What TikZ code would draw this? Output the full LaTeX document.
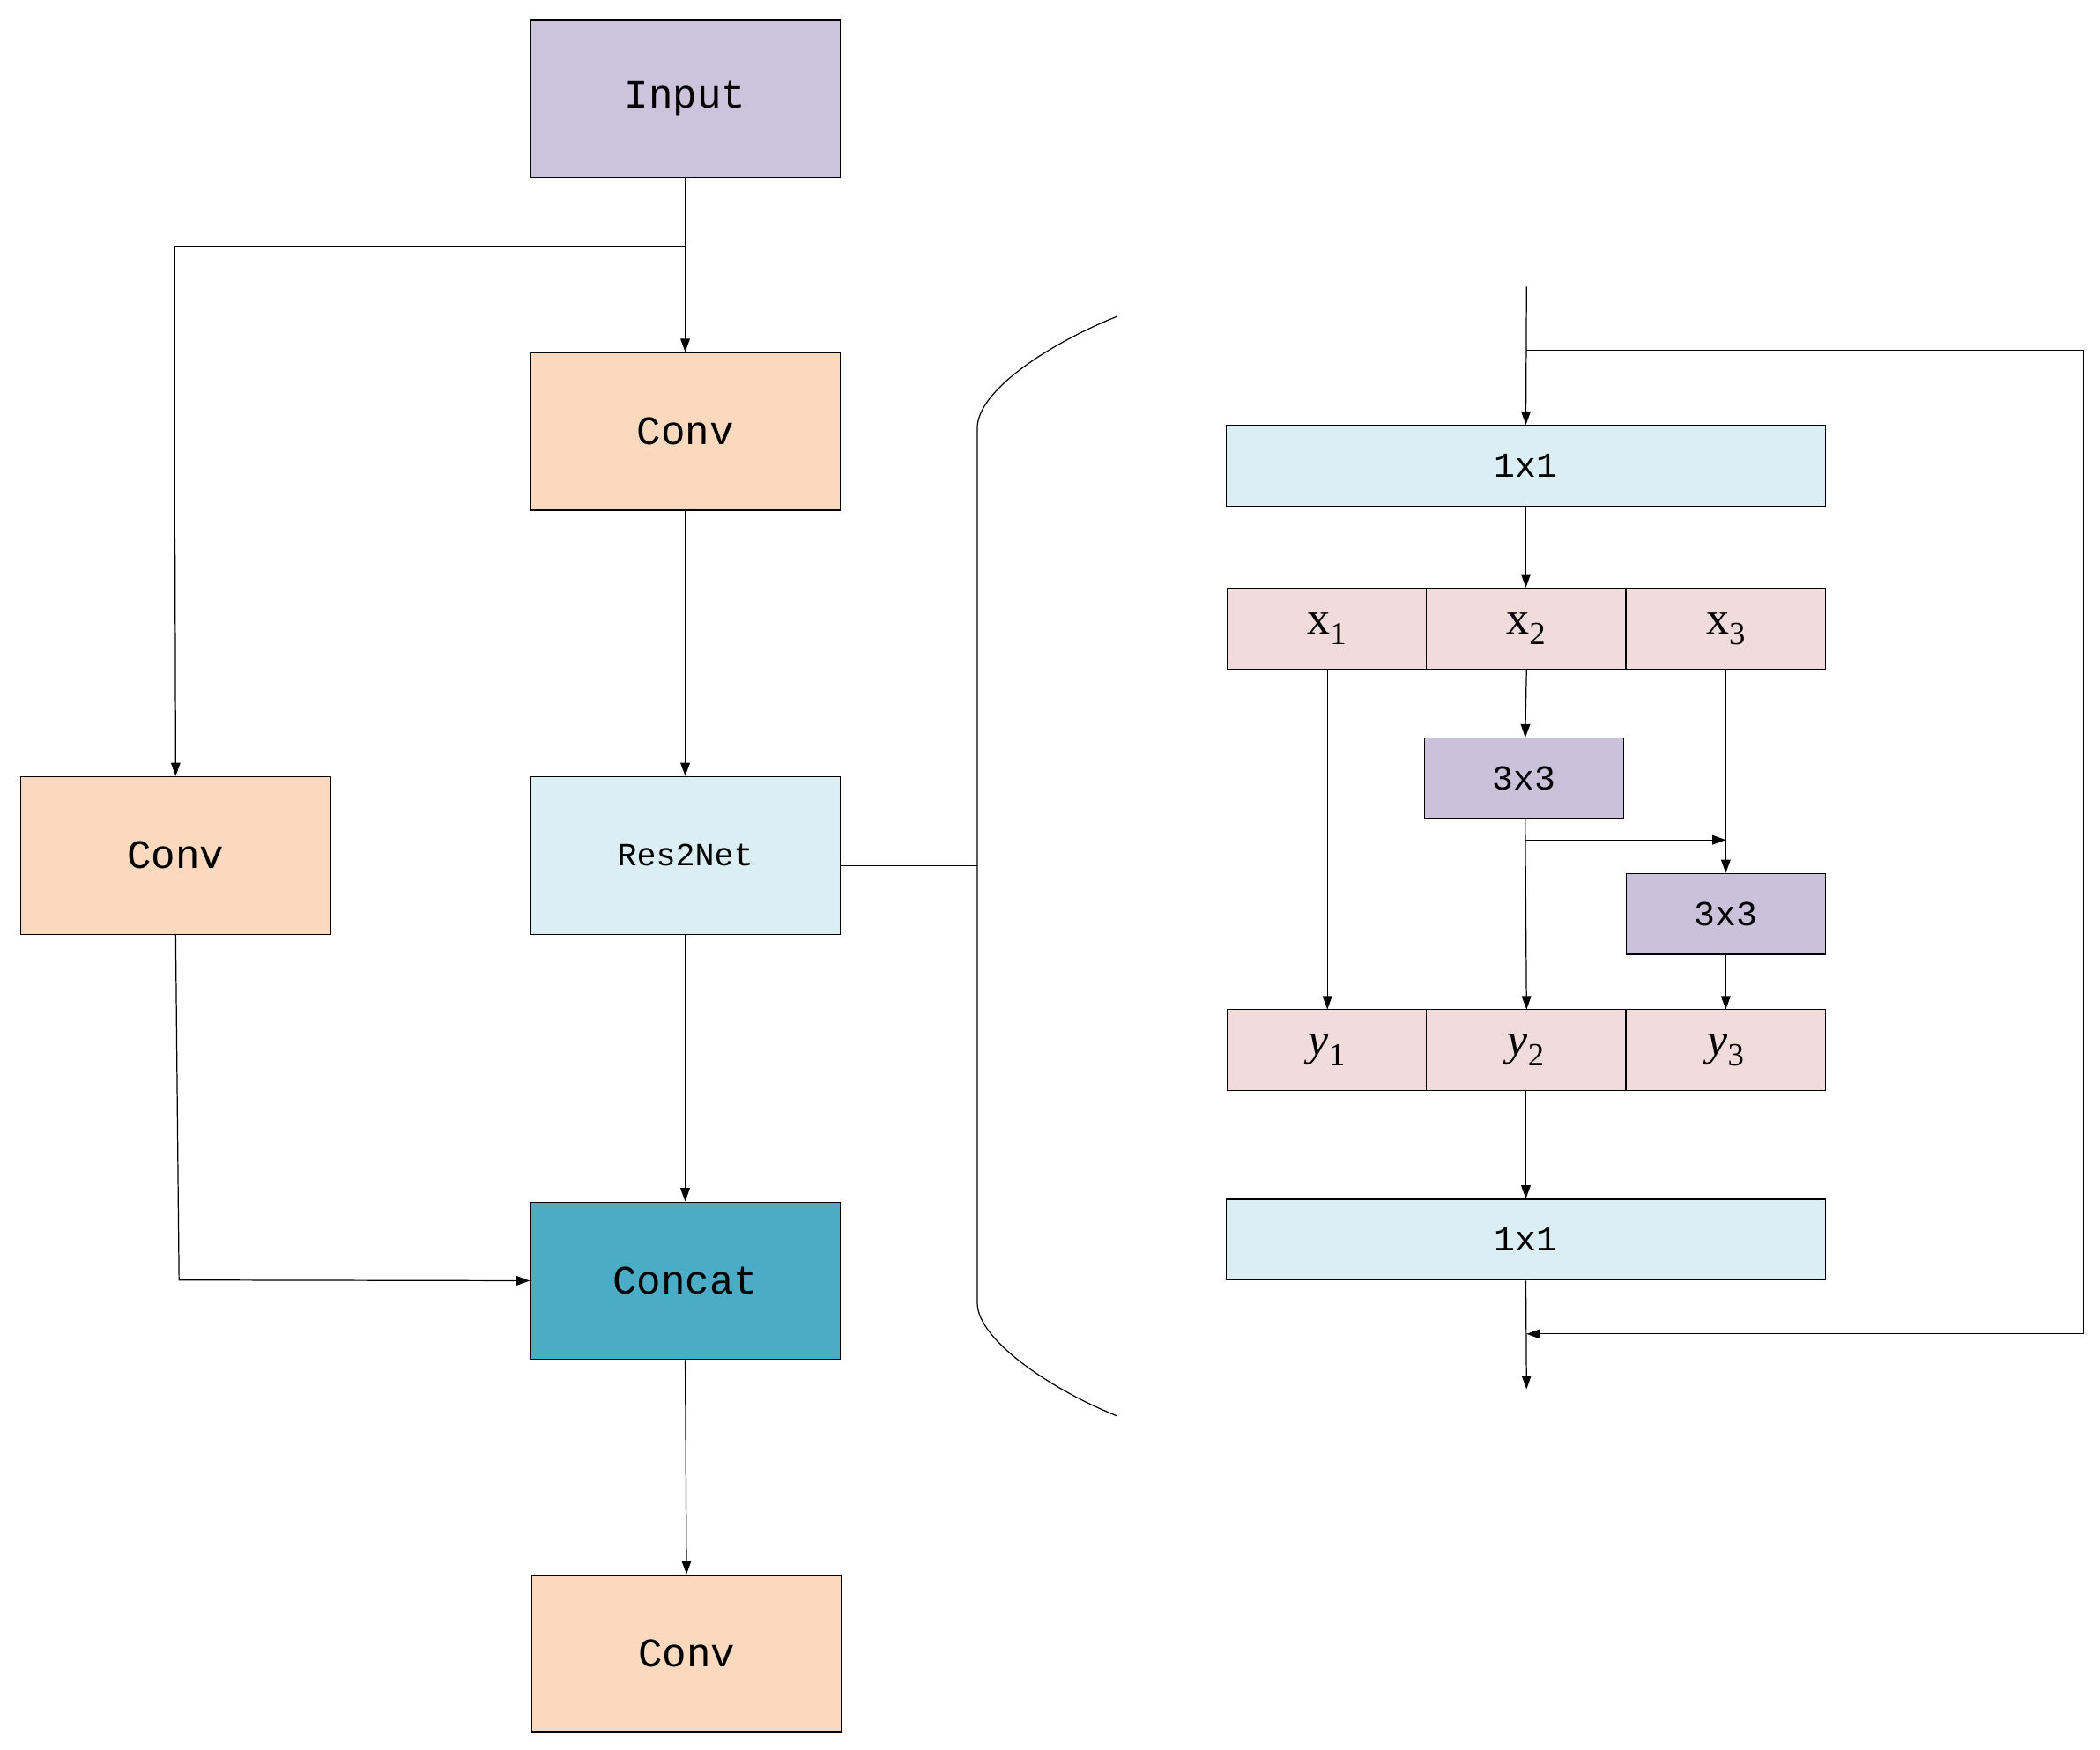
\documentclass[tikz,border=0pt]{standalone}
\usepackage{fontspec}
\setmainfont{Liberation Mono}
\newfontfamily\serifx{Liberation Serif}
\usetikzlibrary{arrows.meta}
\definecolor{cin}{RGB}{204,195,220}
\definecolor{cconv}{RGB}{250,217,190}
\definecolor{cres}{RGB}{218,238,243}
\definecolor{ccat}{RGB}{74,172,198}
\definecolor{cx}{RGB}{242,220,219}
\definecolor{cthree}{RGB}{204,193,218}
\begin{document}
\begin{tikzpicture}[x=1pt,y=-1pt,
 box/.style={draw,line width=0.8pt,inner sep=0pt,font=\fontsize{30}{30}\selectfont},
 big/.style={box,minimum width=230pt,minimum height=117pt},
 bar/.style={box,minimum width=445pt,minimum height=60pt,fill=cres,font=\fontsize{26}{26}\selectfont},
 cell/.style={box,minimum width=148pt,minimum height=60pt,fill=cx,font=\serifx\fontsize{34}{34}\selectfont},
 thr/.style={box,minimum width=148pt,minimum height=60pt,fill=cthree,font=\fontsize{26}{26}\selectfont},
 ar/.style={-{Triangle[length=10pt,width=7pt]},line width=0.8pt},
 ln/.style={line width=0.8pt}]
\useasboundingbox (0,0) rectangle (1560,1300);
\node[big,fill=cin] (in) at (509,73.5) {Input};
\node[big,fill=cconv] (c1) at (509,320.5) {Conv};
\node[big,fill=cres,font=\fontsize{24}{24}\selectfont] (res) at (509,635.5) {Res2Net};
\node[big,fill=cconv] (cl) at (130.5,635.5) {Conv};
\node[big,fill=ccat] (cat) at (509,951.5) {Concat};
\node[big,fill=cconv] (c2) at (510,1228.5) {Conv};
\coordinate (b) at (509,183);
\draw[ar] (in.south) -- (c1.north);
\draw[ln] (b) -| (130,400);
\draw[ar] (130,400) -- (cl.north);
\draw[ar] (c1.south) -- (res.north);
\draw[ar] (res.south) -- (cat.north);
\draw[ar] (cl.south) -- (133,951) -- (cat.west);
\draw[ar] (cat.south) -- (c2.north);
\coordinate (br) at (726,643);
\draw[ln] (res.east|-br) -- (br);
\draw[ln] (830,235) .. controls (780,255) and (726,290) .. (726,318) -- (726,968) .. controls (726,995) and (780,1032) .. (830,1052);
% right
\node[bar] (t1) at (1133.5,346) {1x1};
\node[cell] (x1) at (985.5,467) {x\raisebox{-8pt}{\fontsize{24}{24}\selectfont 1}};
\node[cell] (x2) at (1133.5,467) {x\raisebox{-8pt}{\fontsize{24}{24}\selectfont 2}};
\node[cell] (x3) at (1282,467) {x\raisebox{-8pt}{\fontsize{24}{24}\selectfont 3}};
\node[thr] (k1) at (1132,578) {3x3};
\node[thr] (k2) at (1282,679) {3x3};
\node[cell] (y1) at (985.5,780) {\textit{y}\raisebox{-8pt}{\fontsize{24}{24}\selectfont 1}};
\node[cell] (y2) at (1133.5,780) {\textit{y}\raisebox{-8pt}{\fontsize{24}{24}\selectfont 2}};
\node[cell] (y3) at (1282,780) {\textit{y}\raisebox{-8pt}{\fontsize{24}{24}\selectfont 3}};
\node[bar] (t2) at (1133.5,921) {1x1};
\coordinate (top) at (1134,213);
\coordinate (sk) at (1134,260);
\coordinate (sk2) at (1134,991);
\coordinate (out) at (1134,1032);
\draw[ar] (top) -- (t1.north);
\draw[ln] (sk) -- (1548,260) -- (1548,991);
\draw[ar] (1548,991) -- (sk2);
\draw[ar] (t1.south) -- (x2.north);
\draw[ar] (986,497) -- (986,750);
\draw[ar] (1134,497) -- (1133,548);
\draw[ar] (1133,608) -- (1134,750);
\draw[ar] (1133,624) -- (1282,624);
\draw[ar] (1282,497) -- (k2.north);
\draw[ar] (k2.south) -- (1282,750);
\draw[ar] (y2.south) -- (t2.north);
\draw[ar] (t2.south) -- (out);
\end{tikzpicture}
\end{document}
